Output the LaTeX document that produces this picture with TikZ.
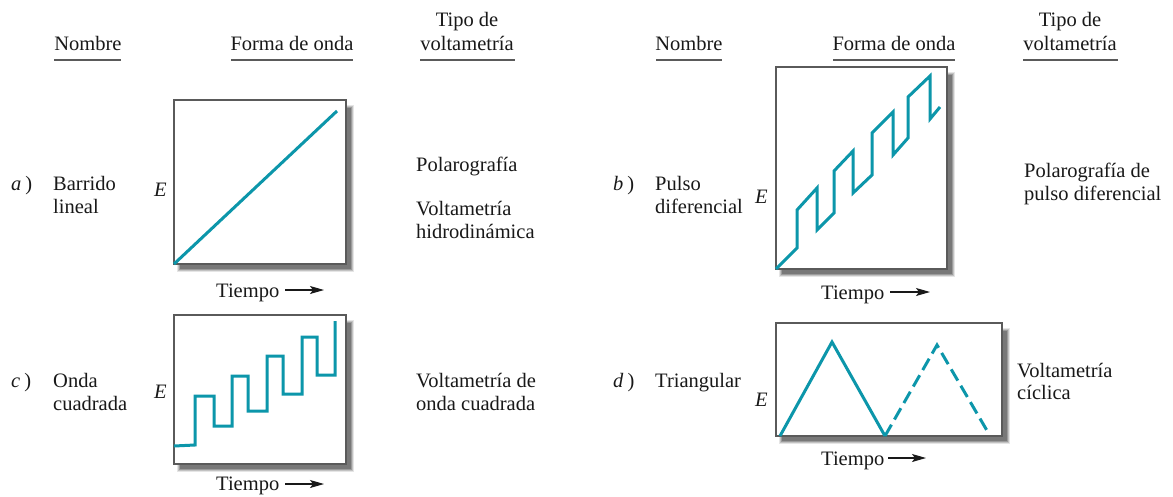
\documentclass[tikz,border=0pt]{standalone}
\usepackage{fontspec}
\setmainfont{Liberation Serif}
\usetikzlibrary{arrows.meta}
\definecolor{wave}{RGB}{12,150,170}
\definecolor{ink}{RGB}{25,25,25}
\definecolor{frame}{RGB}{90,90,90}
\tikzset{
  txt/.style={inner sep=0pt, anchor=base west, text=ink, font=\fontsize{20.5}{23}\selectfont},
  hdr/.style={inner sep=0pt, anchor=base, text=ink, font=\fontsize{20.5}{23}\selectfont},
  uline/.style={draw=frame, line width=1.6pt},
  box/.style={draw=frame, line width=1.3pt, fill=white},
  wv/.style={draw=wave, line width=3pt, line join=miter, line cap=butt},
  tarrow/.style={draw=ink, line width=1.1pt, -{Stealth[length=14pt,width=8pt,inset=3pt]}},
}
\newcommand{\shadowbox}[4]{%
  \fill[black, opacity=0.10] (#1+3,#2+5) rectangle (#3+8,#4+8);
  \fill[black, opacity=0.15] (#1+4,#2+6) rectangle (#3+7,#4+7);
  \fill[black, opacity=0.20] (#1+5,#2+7) rectangle (#3+6,#4+6);
  \fill[black, opacity=0.22] (#1+6,#2+8) rectangle (#3+5,#4+5);
  \draw[box] (#1,#2) rectangle (#3,#4);
}
\begin{document}
\begin{tikzpicture}[x=1pt,y=-1pt]
\useasboundingbox[fill=white] (0,0) rectangle (1173,496);

% ---------- headers left ----------
\node[hdr] (hn1) at (88,50) {Nombre};
\node[hdr] (hf1) at (292,50) {Forma de onda};
\node[hdr] (ht1a) at (467,26) {Tipo de};
\node[hdr] (ht1) at (467,50) {voltametría};
\draw[uline] (54,60) -- (121,60);
\draw[uline] (231,60) -- (353,60);
\draw[uline] (420,60) -- (515,60);

% ---------- headers right ----------
\node[hdr] (hn2) at (689,50) {Nombre};
\node[hdr] (hf2) at (894,50) {Forma de onda};
\node[hdr] (ht2a) at (1070,26) {Tipo de};
\node[hdr] (ht2) at (1070,50) {voltametría};
\draw[uline] (656,60) -- (722,60);
\draw[uline] (833,60) -- (955,60);
\draw[uline] (1023,60) -- (1118,60);

% ---------- a) ----------
\node[txt] (la) at (11,190) {\textit{a}\kern4pt)};
\node[txt] (na1) at (53,190) {Barrido};
\node[txt] (na2) at (53,213) {lineal};
\node[txt] (ea) at (154,196) {\textit{E}};
\shadowbox{174}{100}{346}{264}
\draw[wv] (174,264) -- (337,111);
\node[txt] (tma) at (216,297) {Tiempo};
\coordinate (aa1) at (285,290);
\coordinate (aa2) at (324,290);
\draw[tarrow] (aa1) -- (aa2);
\node[txt] (va1) at (416,171) {Polarografía};
\node[txt] (va2) at (416,215) {Voltametría};
\node[txt] (va3) at (416,238) {hidrodinámica};

% ---------- b) ----------
\node[txt] (lb) at (613,190) {\textit{b}\kern4pt)};
\node[txt] (nb1) at (655,190) {Pulso};
\node[txt] (nb2) at (655,213) {diferencial};
\node[txt] (eb) at (755,203) {\textit{E}};
\shadowbox{776}{67}{947}{269}
\draw[wv] (776,269) -- (797,248) -- (797,210) -- (817,188) -- (817,230)
  -- (834,213) -- (834,171) -- (853,151) -- (853,193) -- (872,175)
  -- (872,133) -- (893,112) -- (893,155) -- (908,138) -- (908,97)
  -- (930,76) -- (930,119) -- (940,107);
\node[txt] (tmb) at (821,299) {Tiempo};
\coordinate (ba1) at (890,292);
\coordinate (ba2) at (930,292);
\draw[tarrow] (ba1) -- (ba2);
\node[txt] (vb1) at (1024,177) {Polarografía de};
\node[txt] (vb2) at (1024,200) {pulso diferencial};

% ---------- c) ----------
\node[txt] (lc) at (11,387) {\textit{c}\kern4pt)};
\node[txt] (nc1) at (53,387) {Onda};
\node[txt] (nc2) at (53,410) {cuadrada};
\node[txt] (ec) at (154,398) {\textit{E}};
\shadowbox{174}{315}{346}{464}
\draw[wv] (174,446) -- (195,445) -- (195,396) -- (214,396) -- (214,426)
  -- (232,426) -- (232,376) -- (248,376) -- (248,411) -- (267,411)
  -- (267,356) -- (283,356) -- (283,394) -- (302,394) -- (302,337)
  -- (317,337) -- (317,375) -- (335,375) -- (335,321);
\node[txt] (tmc) at (216,490) {Tiempo};
\coordinate (ca1) at (285,484);
\coordinate (ca2) at (324,484);
\draw[tarrow] (ca1) -- (ca2);
\node[txt] (vc1) at (416,387) {Voltametría de};
\node[txt] (vc2) at (416,410) {onda cuadrada};

% ---------- d) ----------
\node[txt] (ld) at (613,387) {\textit{d}\kern4pt)};
\node[txt] (nd1) at (655,387) {Triangular};
\node[txt] (ed) at (755,406) {\textit{E}};
\shadowbox{776}{323}{1002}{436}
\draw[wv] (780,436) -- (832,342) -- (885,436);
\draw[wv, dash pattern=on 13pt off 6pt] (885,436) -- (937,345) -- (989,434);
\node[txt] (tmd) at (821,465) {Tiempo};
\coordinate (da1) at (888,458);
\coordinate (da2) at (926,458);
\draw[tarrow] (da1) -- (da2);
\node[txt] (vd1) at (1017,377) {Voltametría};
\node[txt] (vd2) at (1017,399) {cíclica};
\end{tikzpicture}
\end{document}
